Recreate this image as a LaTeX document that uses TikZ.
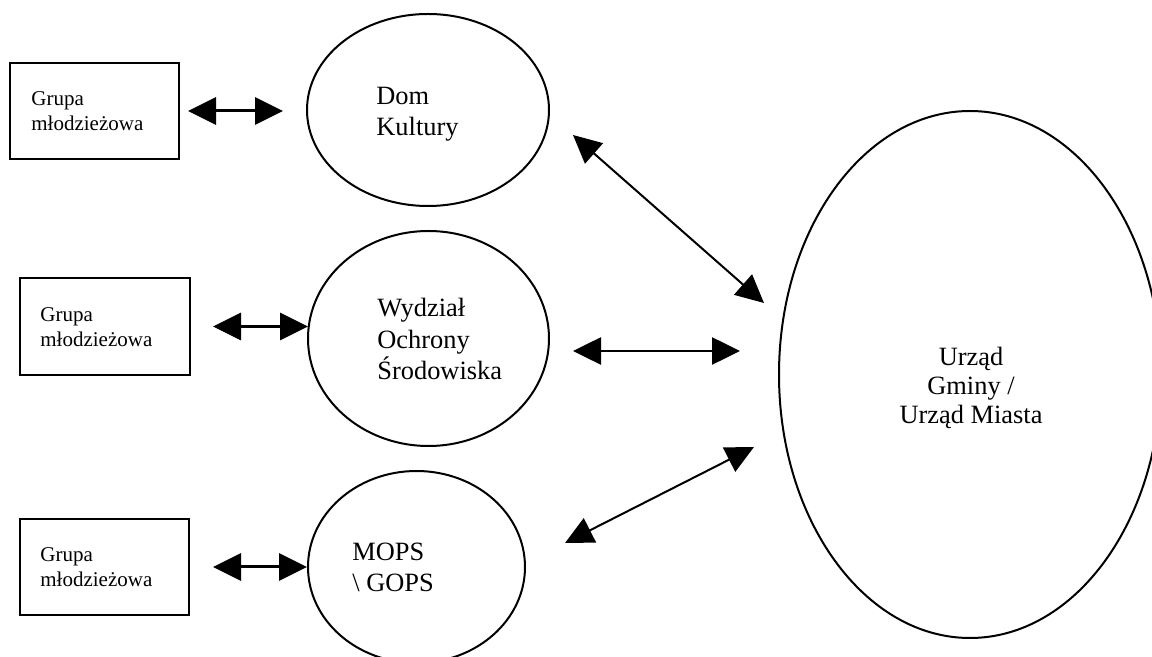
\documentclass[tikz,border=0pt]{standalone}
\usepackage{fontspec}
\setmainfont{Liberation Serif}
\usetikzlibrary{shapes.geometric,arrows.meta}
\tikzset{bigtri/.tip={Triangle[length=14pt,width=13.5pt]}}
\begin{document}
\begin{tikzpicture}[x=0.5pt,y=-0.5pt,
  ell/.style={draw,ellipse,line width=1pt,inner sep=0pt,outer sep=0pt},
  grpbox/.style={draw,rectangle,line width=1pt,inner sep=0pt,outer sep=0pt},
  elltxt/.style={inner sep=0pt,align=left,anchor=base west,font=\fontsize{13.2}{15.75}\selectfont},
  bigtxt/.style={inner sep=0pt,align=center,anchor=base,font=\fontsize{13.2}{14.5}\selectfont},
  boxtxt/.style={inner sep=0pt,align=left,anchor=base west,font=\fontsize{10.5}{12.5}\selectfont},
  harrow/.style={bigtri-bigtri,line width=1.5pt},
  darrow/.style={bigtri-bigtri,line width=1pt}
]
\useasboundingbox (0,0) rectangle (1152,657);

% ellipses
\node[ell,minimum width=121pt,minimum height=96pt] (dom) at (428,110) {};
\node[ell,minimum width=120.5pt,minimum height=107.5pt] (wyd) at (428.5,338.5) {};
\node[ell,minimum width=108.5pt,minimum height=96pt] (mops) at (416.5,567) {};
\node[ell,minimum width=191pt,minimum height=263.5pt] (urzad) at (970,374.5) {};

% texts (base anchor = baseline of the last line)
\node[elltxt] (domtxt) at (376,136) {Dom\\Kultury};
\node[elltxt] (wydtxt) at (377,380) {Wydział\\Ochrony\\Środowiska};
\node[elltxt] (mopstxt) at (352,592) {MOPS\\\textbackslash\ GOPS};
\node[bigtxt] (urztxt) at (971,424) {Urząd\\Gminy /\\Urząd Miasta};

% boxes
\node[grpbox,minimum width=84.5pt,minimum height=48pt] (box1) at (94.5,111) {};
\node[grpbox,minimum width=85pt,minimum height=48.5pt] (box2) at (105,326.5) {};
\node[grpbox,minimum width=84.5pt,minimum height=48pt] (box3) at (104.5,567) {};

\node[boxtxt] (b1txt) at (31,131) {Grupa\\młodzieżowa};
\node[boxtxt] (b2txt) at (40,347) {Grupa\\młodzieżowa};
\node[boxtxt] (b3txt) at (40,587) {Grupa\\młodzieżowa};

% left arrows
\draw[harrow,shorten <=4.5pt,shorten >=12pt] (box1.east) -- (box1.east -| dom.west);
\draw[harrow,shorten <=11.5pt] (box2.east) -- (box2.east -| wyd.west);
\draw[harrow,shorten <=12pt,shorten >=0.5pt] (box3.east) -- (box3.east -| mops.west);

% right arrows
\coordinate (t1) at (573,135);
\coordinate (t2) at (764,303);
\coordinate (m1) at (573,351);
\coordinate (m2) at (740,351);
\coordinate (d1) at (565,543);
\coordinate (d2) at (754,447);
\draw[darrow] (t1) -- (t2);
\draw[harrow,line width=1.3pt] (m1) -- (m2);
\draw[darrow] (d1) -- (d2);
\end{tikzpicture}
\end{document}
